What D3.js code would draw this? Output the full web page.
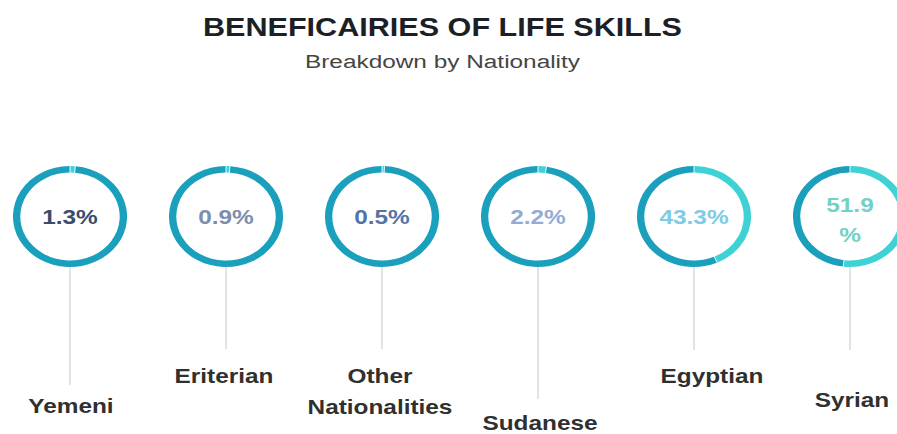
<!DOCTYPE html>
<html>
<head>
<meta charset="utf-8">
<script src="https://cdn.jsdelivr.net/npm/d3@7"></script>
<style>
  html, body { margin: 0; padding: 0; background: #ffffff; }
  svg { display: block; }
</style>
</head>
<body>
<svg id="chart" width="897" height="434"></svg>
<script>
// Share of life-skills beneficiaries by nationality (percent)
const categories = ["Yemeni", "Eriterian", "Other Nationalities", "Sudanese", "Egyptian", "Syrian"];
const shares = [1.3, 0.9, 0.5, 2.2, 43.3, 51.9];
const titleText = "BENEFICAIRIES OF LIFE SKILLS";
const subtitleText = "Breakdown by Nationality";

// Value label colours, one per ring
const valueColors = ["#3c4c6c", "#7e8dab", "#5573a6", "#94acd4", "#7dcbe6", "#72d1c6"];

// Per-ring layout: where the leader line stops, the baseline of the last
// label line, a small horizontal nudge and whether the percentage wraps
const layout = [
  { lineEnd: 385, baseline: 413, dx: 1,  wrap: false },
  { lineEnd: 349, baseline: 383, dx: -2, wrap: false },
  { lineEnd: 349, baseline: 414, dx: -2, wrap: false },
  { lineEnd: 399, baseline: 430, dx: 2,  wrap: false },
  { lineEnd: 350, baseline: 383, dx: 18, wrap: false },
  { lineEnd: 350, baseline: 407, dx: 2,  wrap: true }
];

const svg = d3.select("#chart");
const FONT = "'Liberation Sans', Arial, Helvetica, sans-serif";

// Stretch a text element horizontally by a factor (or to an exact width)
function stretch(sel, factor, exact) {
  sel.each(function () {
    const w = this.getComputedTextLength();
    const target = exact != null ? exact : w * factor;
    d3.select(this).attr("textLength", target).attr("lengthAdjust", "spacingAndGlyphs");
  });
}

// Title block
svg.append("text")
  .attr("x", 442.5).attr("y", 36)
  .attr("text-anchor", "middle")
  .attr("font-family", FONT).attr("font-weight", "bold").attr("font-size", 25)
  .attr("fill", "#1d1f27")
  .text(titleText)
  .call(stretch, null, 479);

svg.append("text")
  .attr("x", 442.5).attr("y", 68)
  .attr("text-anchor", "middle")
  .attr("font-family", FONT).attr("font-size", 18)
  .attr("fill", "#454545")
  .text(subtitleText)
  .call(stretch, null, 275);

// Horizontal placement of the rings
const x = d3.scalePoint().domain(categories).range([70, 850]);
const cy = 216.5;
const sx = 1.13; // rings are drawn slightly wider than tall

const outerR = 50.5, innerR = 44;
const arc = d3.arc().innerRadius(innerR).outerRadius(outerR);
const pie = d3.pie().sort(null).value(d => d.v).padAngle(0.012);

const DARK = "#1a9fbd";
const LIGHT = "#3fd2d5";

const items = categories.map((c, i) => ({ name: c, value: shares[i], i }));

// Leader lines (drawn first so rings sit on top)
svg.append("g").selectAll("line")
  .data(items)
  .join("line")
  .attr("x1", d => x(d.name)).attr("x2", d => x(d.name))
  .attr("y1", cy + outerR - 1)
  .attr("y2", d => layout[d.i].lineEnd)
  .attr("stroke", "#e3e3e6")
  .attr("stroke-width", 2);

// Rings: highlighted share clockwise from the top, remainder in darker teal
const rings = svg.append("g").selectAll("g.ring")
  .data(items)
  .join("g")
  .attr("class", "ring")
  .attr("transform", d => `translate(${x(d.name)},${cy}) scale(${sx},1)`);

rings.selectAll("path")
  .data(d => pie([{ v: d.value, c: LIGHT }, { v: 100 - d.value, c: DARK }]))
  .join("path")
  .attr("d", arc)
  .attr("fill", d => d.data.c);

// Percentage labels inside the rings
items.forEach(d => {
  const txt = d3.format(".1f")(d.value) + "%";
  const lines = layout[d.i].wrap ? [txt.slice(0, -1), "%"] : [txt];
  const base = lines.length > 1 ? 212 : 224;
  lines.forEach((ln, k) => {
    svg.append("text")
      .attr("x", x(d.name))
      .attr("y", base + k * 30)
      .attr("text-anchor", "middle")
      .attr("font-family", FONT).attr("font-weight", "bold").attr("font-size", 20)
      .attr("fill", valueColors[d.i])
      .text(ln)
      .call(stretch, 1.22);
  });
});

// Category labels under the leader lines
items.forEach(d => {
  const words = d.name.split(" ");
  const L = layout[d.i];
  const first = L.baseline - (words.length - 1) * 31;
  words.forEach((w, k) => {
    svg.append("text")
      .attr("x", x(d.name) + L.dx)
      .attr("y", first + k * 31)
      .attr("text-anchor", "middle")
      .attr("font-family", FONT).attr("font-weight", "bold").attr("font-size", 21)
      .attr("fill", "#303030")
      .text(w)
      .call(stretch, 1.16);
  });
});
</script>
</body>
</html>
